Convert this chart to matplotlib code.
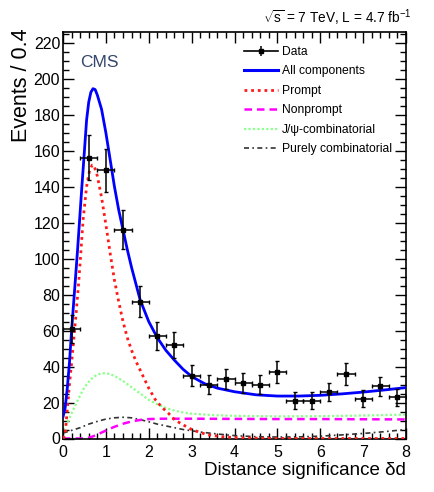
import numpy as np
import matplotlib
matplotlib.use("Agg")
import matplotlib.pyplot as plt
from matplotlib import font_manager
from matplotlib.ticker import MultipleLocator
from matplotlib.lines import Line2D

# ---------------- data ----------------
bin_centers = [0.2, 0.6, 1.0, 1.4, 1.8, 2.2, 2.6, 3.0, 3.4, 3.8,
               4.2, 4.6, 5.0, 5.4, 5.8, 6.2, 6.6, 7.0, 7.4, 7.8]
events = [61, 156, 149, 116, 76, 57, 52, 35, 30, 33,
          31, 30, 37, 21, 21, 26, 36, 22, 29, 23]
bin_half_width = 0.2

# fitted component curves
all_x = [0.0, 0.05, 0.1, 0.15, 0.2, 0.3, 0.34, 0.4, 0.44, 0.5, 0.55, 0.6, 0.65, 0.7,
         0.75, 0.8, 0.9, 1.0, 1.1, 1.2, 1.3, 1.4, 1.5, 1.6, 1.8, 2.0, 2.2, 2.4,
         2.6, 2.8, 3.0, 3.3, 3.6, 4.0, 4.5, 5.0, 5.5, 6.0, 6.5, 7.0, 7.5, 8.0]
all_y = [12, 17, 28, 42, 60, 92, 105, 126, 140, 160, 177, 187, 192.5, 194.5,
         194, 191, 183, 170, 155, 140, 127, 116, 105, 95, 77, 65, 56, 49,
         43.5, 38.5, 34.5, 30.5, 28, 26, 24.3, 23.6, 23.6, 24, 24.8, 25.8, 27, 28.3]

prompt_x = [0.0, 0.05, 0.1, 0.15, 0.2, 0.3, 0.36, 0.4, 0.47, 0.55, 0.62, 0.68, 0.72,
            0.8, 0.9, 1.0, 1.1, 1.2, 1.3, 1.4, 1.5, 1.6, 1.7, 1.84, 2.0, 2.15,
            2.3, 2.46, 2.6, 2.77, 3.0, 3.35, 3.7, 4.0, 4.5, 5.0, 6.0, 7.0, 8.0]
prompt_y = [0, 2, 16, 30, 42, 68, 85, 98, 122, 140, 149, 152, 152,
            146, 134, 119, 103, 88, 76, 65, 56, 49, 43, 36, 28, 21.7,
            17.5, 14, 10.5, 8, 5, 2.2, 1.0, 0.5, 0.2, 0.05, 0, 0, 0]

nonprompt_x = [0.0, 0.5, 0.6, 0.7, 0.8, 0.9, 1.0, 1.1, 1.2, 1.4, 1.6, 1.8,
               2.0, 2.3, 3.0, 4.0, 5.0, 6.0, 7.0, 8.0]
nonprompt_y = [0, 0, 0.4, 1.2, 2.2, 3.3, 4.4, 5.5, 6.5, 8.2, 9.5, 10.3,
               10.8, 11, 11, 10.9, 10.8, 10.8, 10.7, 10.6]

jpsicomb_x = [0.0, 0.1, 0.2, 0.3, 0.4, 0.5, 0.6, 0.7, 0.8, 0.9, 1.0, 1.1, 1.2,
              1.4, 1.6, 1.8, 2.0, 2.2, 2.4, 2.6, 2.8, 3.0, 3.5, 4.0, 5.0,
              6.0, 7.0, 8.0]
jpsicomb_y = [5, 9, 14, 19, 24, 28.5, 31.5, 34, 35.5, 36.2, 36.3, 35.8, 34.8,
              32, 28.5, 25, 21.5, 19, 17, 15.5, 14.5, 13.8, 13, 12.6, 12.3,
              12.4, 12.8, 13.3]

purecomb_x = [0.0, 0.2, 0.4, 0.6, 0.8, 1.0, 1.2, 1.4, 1.6, 1.8, 2.0, 2.2,
              2.5, 2.8, 3.2, 3.6, 4.0, 4.5, 5.0, 5.5, 6.0, 6.5, 7.0, 7.5, 8.0]
purecomb_y = [3, 4.5, 6, 8, 9.5, 10.8, 11.5, 11.8, 11.5, 10.5, 9.3, 8,
              6.5, 5, 3.6, 2.5, 1.6, 1.0, 0.8, 0.9, 1.3, 2.0, 2.8, 3.8, 5.0]

legend_labels = ["Data", "All components", "Prompt", "Nonprompt",
                 "J/\u03c8-combinatorial", "Purely combinatorial"]

# ---------------- fonts ----------------
avail = {f.name for f in font_manager.fontManager.ttflist}
main_font = "Liberation Sans Narrow" if "Liberation Sans Narrow" in avail else "Liberation Sans"
plt.rcParams["font.family"] = [main_font, "DejaVu Sans"]
plt.rcParams["mathtext.fontset"] = "custom"
plt.rcParams["mathtext.rm"] = main_font
plt.rcParams["mathtext.it"] = main_font

# ---------------- figure ----------------
W, H = 434, 492
fig = plt.figure(figsize=(W / 100, H / 100), dpi=100)
ax = fig.add_axes([63 / W, 1 - 438.5 / H, (406 - 63) / W, (438.5 - 32) / H])

GREEN = "#8cff8c"
ax.plot(jpsicomb_x, jpsicomb_y, color=GREEN, lw=1.6, ls=(0, (1, 1)), zorder=2)
ax.plot(purecomb_x, purecomb_y, color="#333333", lw=1.2, ls=(0, (3, 2, 1, 2)), zorder=2)
ax.plot(nonprompt_x, nonprompt_y, color="#ff00ff", lw=1.8, ls=(0, (3, 2)), zorder=2)
ax.plot(prompt_x, prompt_y, color="#ff1a1a", lw=2.0, ls=(0, (1, 1.4)), zorder=3)
ax.plot(all_x, all_y, color="#0000ff", lw=2.0, zorder=4)

errs = np.sqrt(np.array(events, dtype=float))
ax.errorbar(bin_centers, events, yerr=errs, xerr=bin_half_width, fmt="s",
            color="black", ms=3.0, elinewidth=1.1, capsize=1.5, capthick=1.0,
            zorder=5)

ax.set_xlim(0, 8)
ax.set_ylim(0, 226)
ax.xaxis.set_major_locator(MultipleLocator(1))
ax.xaxis.set_minor_locator(MultipleLocator(0.2))
ax.yaxis.set_major_locator(MultipleLocator(20))
ax.yaxis.set_minor_locator(MultipleLocator(5))
ax.tick_params(which="both", direction="in", top=True, right=True,
               width=1.0, labelsize=11.5)
ax.tick_params(which="major", length=8)
ax.tick_params(which="minor", length=4.5)
ax.tick_params(axis="x", pad=5)
ax.tick_params(axis="y", pad=2)
for sp in ax.spines.values():
    sp.set_linewidth(1.2)

ax.set_ylabel("Events / 0.4", fontsize=15.5, loc="top")
ax.yaxis.set_label_coords(-0.09, 1.008)
ax.set_xlabel("Distance significance \u03b4d", fontsize=13.5, loc="right")
ax.xaxis.set_label_coords(1.0, -0.058)

ax.text(0.05, 0.925, "CMS", transform=ax.transAxes, fontsize=12.5,
        color="#34466e", ha="left", va="center")
fig.text(412 / W, 1 - 18 / H, r"$\sqrt{s}$ = 7 TeV, L = 4.7 fb$^{-1}$",
         ha="right", va="center", fontsize=9.8)

data_handle = (Line2D([], [], color="black", marker="s", ms=3.0, lw=1.2),
               Line2D([], [], color="black", marker="|", ms=7, mew=1.1, lw=0))
handles = [
    data_handle,
    Line2D([], [], color="#0000ff", lw=2.2),
    Line2D([], [], color="#ff1a1a", lw=2.0, ls=(0, (1, 1.4))),
    Line2D([], [], color="#ff00ff", lw=1.8, ls=(0, (3, 2))),
    Line2D([], [], color=GREEN, lw=1.6, ls=(0, (1, 1))),
    Line2D([], [], color="#333333", lw=1.2, ls=(0, (3, 2, 1, 2))),
]
leg = ax.legend(handles, legend_labels, loc="upper left",
                bbox_to_anchor=((244 - 63) / (406 - 63), (438.5 - 46) / (438.5 - 32)),
                frameon=False, fontsize=8.7, handlelength=2.8, handletextpad=0.35,
                labelspacing=0.62, borderaxespad=0, borderpad=0)

fig.savefig("out.png", dpi=100)
